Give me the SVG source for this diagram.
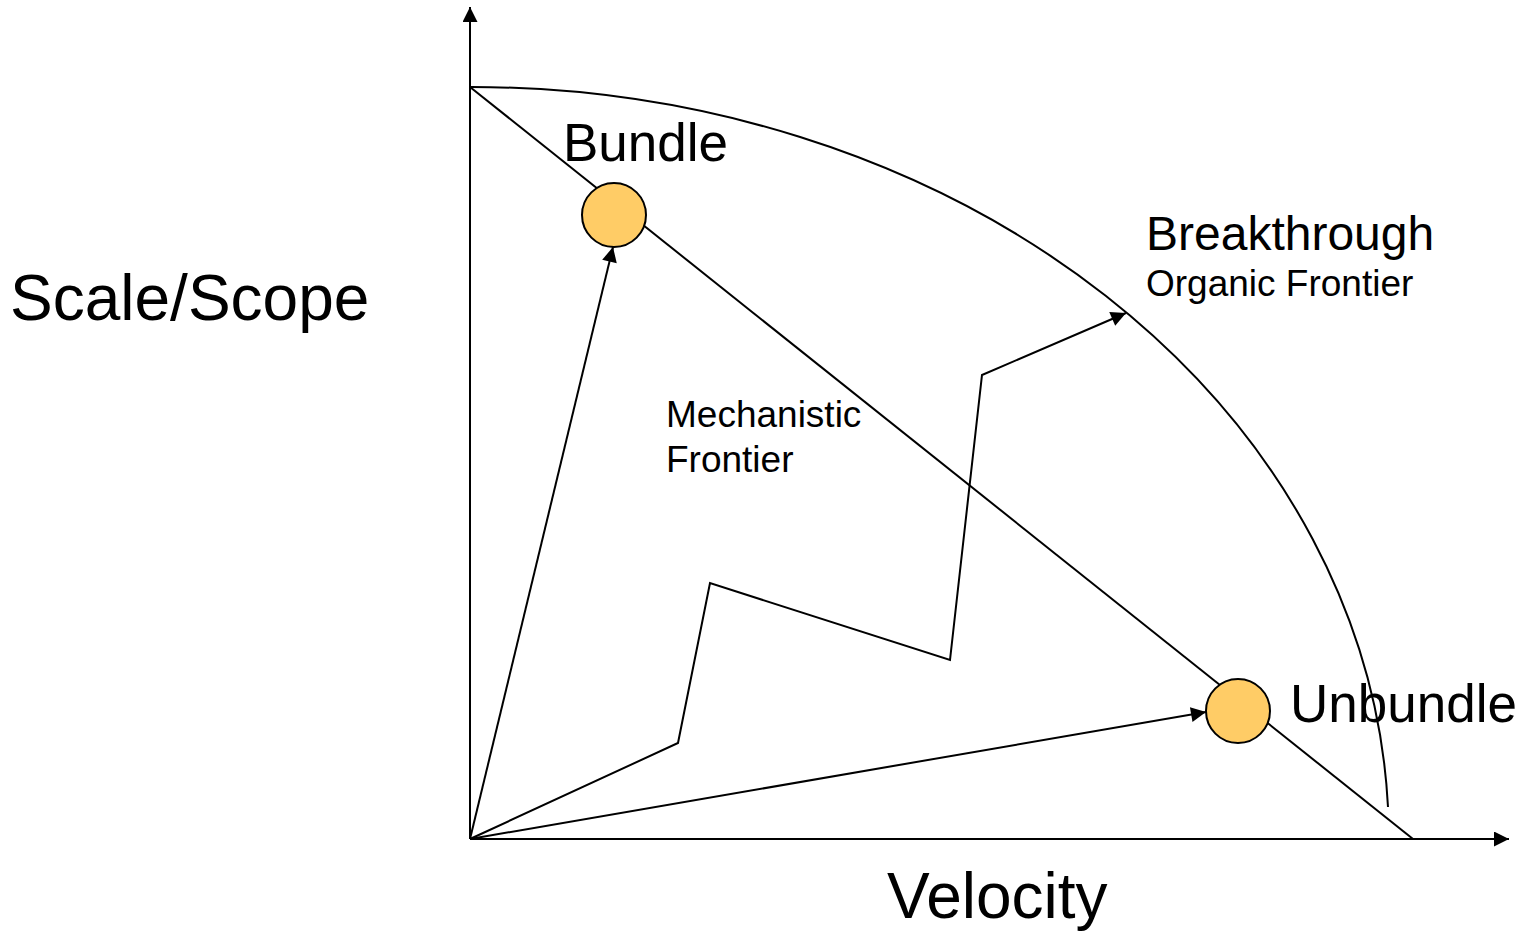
<svg xmlns="http://www.w3.org/2000/svg" width="1526" height="932" viewBox="0 0 1526 932">
<style>
.ln{fill:none;stroke:#000;stroke-width:2}
.t{font-family:"Liberation Sans",Arial,sans-serif;fill:#000}
.node{fill:#FFCC66;stroke:#000;stroke-width:2}
</style>
<defs>
<marker id="ah" viewBox="0 0 10 10" refX="10" refY="5" markerWidth="10" markerHeight="10" markerUnits="userSpaceOnUse" orient="auto">
<path d="M0,0 L10,5 L0,10 z" fill="#000"/>
</marker>
<marker id="ahL" viewBox="0 0 10 10" refX="10" refY="5" markerWidth="16" markerHeight="15" markerUnits="userSpaceOnUse" orient="auto">
<path d="M0,0 L10,5 L0,10 z" fill="#000"/>
</marker>
</defs>
<rect width="1526" height="932" fill="#fff"/>
<g id="axes">
<line class="ln" x1="470" y1="839" x2="470" y2="7" marker-end="url(#ahL)"/>
<line class="ln" x1="470" y1="839" x2="1509" y2="839" marker-end="url(#ahL)"/>
</g>
<g id="frontiers">
<line class="ln" x1="470" y1="87" x2="1413" y2="839"/>
<path class="ln" d="M470,87 A918,752 0 0 1 1388,807"/>
</g>
<g id="connectors">
<line class="ln" x1="470" y1="839" x2="613" y2="247" marker-end="url(#ahL)"/>
<line class="ln" x1="470" y1="839" x2="1206" y2="712" marker-end="url(#ahL)"/>
<polyline class="ln" points="470,839 678,743 710,583 950,660 982,375 1126,313" marker-end="url(#ahL)"/>
</g>
<g id="bundle">
<circle class="node" cx="614" cy="215" r="32"/>
<text class="t" x="563" y="161" font-size="53">Bundle</text>
</g>
<g id="unbundle">
<circle class="node" cx="1238" cy="711" r="32"/>
<text class="t" x="1290" y="722" font-size="53">Unbundle</text>
</g>
<g id="labels">
<text class="t" x="10" y="320" font-size="64">Scale/Scope</text>
<text class="t" x="887" y="918" font-size="64">Velocity</text>
<text class="t" x="1146" y="250" font-size="48">Breakthrough</text>
<text class="t" x="1146" y="296" font-size="37">Organic Frontier</text>
<text class="t" x="666" y="427" font-size="37">Mechanistic</text>
<text class="t" x="666" y="472" font-size="37">Frontier</text>
</g>
</svg>
